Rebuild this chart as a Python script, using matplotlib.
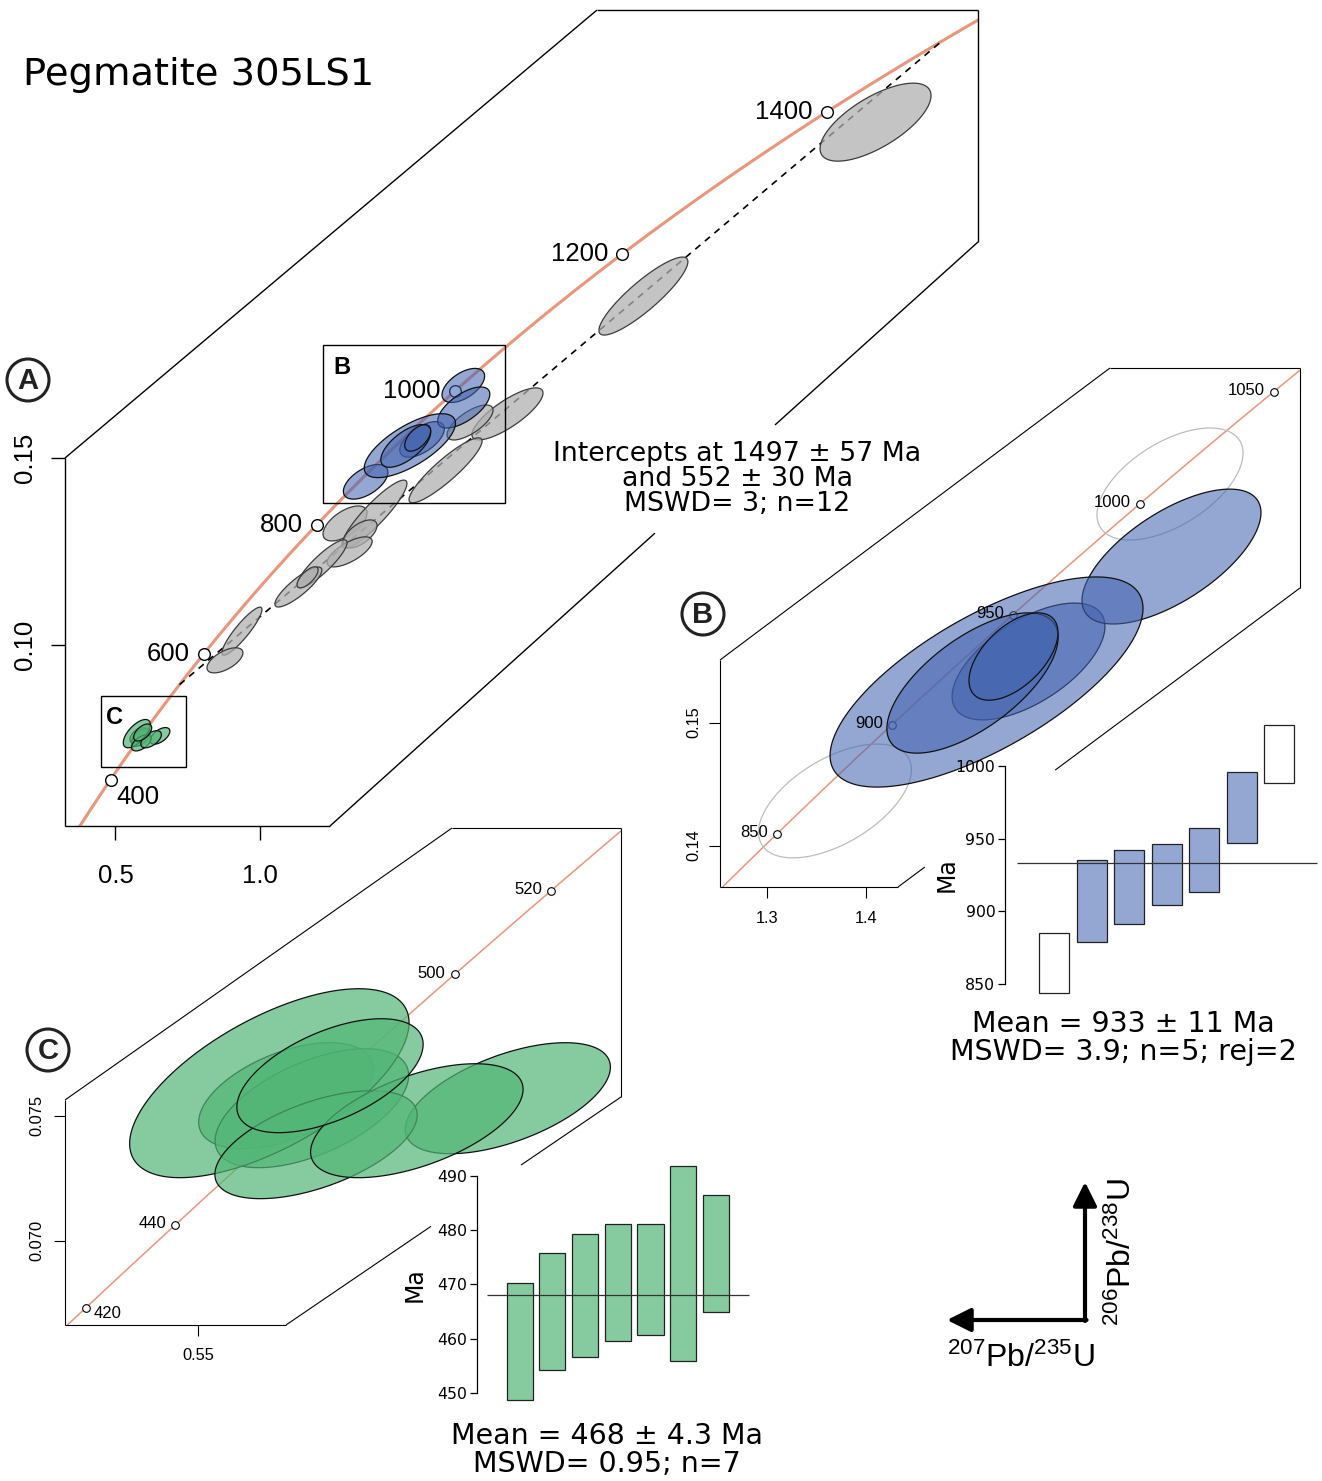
import numpy as np
import matplotlib.pyplot as plt
from matplotlib.patches import Polygon, Circle, Rectangle

plt.rcParams['font.family'] = ['Liberation Sans', 'DejaVu Sans']
plt.rcParams['mathtext.fontset'] = 'custom'
plt.rcParams['mathtext.rm'] = 'Liberation Sans'
plt.rcParams['mathtext.default'] = 'regular'

W, H = 1322, 1481
PT = 72 / 100          # points per pixel at dpi=100
LAM235 = 9.8485e-4     # decay constants, 1/Ma
LAM238 = 1.55125e-4
K95 = np.sqrt(5.991)   # 95% confidence ellipse, 2 d.o.f.

SALMON = '#e9967a'
GREY = (0.69, 0.69, 0.69, 0.75)
BLUE = (67 / 255, 99 / 255, 176 / 255, 0.57)
GREEN = (82 / 255, 182 / 255, 119 / 255, 0.70)
DEJAVU = 'DejaVu Sans'

# ---------------- data ----------------
# discordant analyses shown only in A: 207Pb/235U, 1s, 206Pb/238U, 1s, rho
grey_x = [3.139, 2.333, 1.861, 1.646, 1.731, 1.297, 1.399, 1.349, 1.313, 1.217, 1.135, 1.167, 0.939, 0.880]
grey_sx = [0.0787, 0.0631, 0.0504, 0.0518, 0.0326, 0.0312, 0.0461, 0.0241, 0.0319, 0.0355, 0.0333, 0.0149, 0.0284, 0.0255]
grey_y = [0.2398, 0.1933, 0.1618, 0.1467, 0.1595, 0.1325, 0.1350, 0.1297, 0.1249, 0.1217, 0.1155, 0.1181, 0.1037, 0.0959]
grey_sy = [0.00426, 0.00426, 0.00284, 0.00355, 0.00191, 0.00191, 0.00371, 0.00153, 0.00164, 0.00262, 0.00218, 0.00115, 0.00262, 0.00137]
grey_rho = [0.68, 0.88, 0.80, 0.90, 0.70, 0.60, 0.90, 0.60, 0.70, 0.88, 0.85, 0.70, 0.90, 0.60]

# ~930 Ma population (inset B)
b_x = [1.3686, 1.7077, 1.5645, 1.7092, 1.5220, 1.5078, 1.5493]
b_sx = [0.0316, 0.0302, 0.0316, 0.0370, 0.0647, 0.0354, 0.0184]
b_y = [0.14363, 0.16940, 0.15497, 0.16350, 0.15330, 0.15322, 0.15537]
b_sy = [0.00189, 0.00186, 0.00194, 0.00224, 0.00349, 0.00233, 0.00145]
b_rho = [0.55, 0.55, 0.60, 0.65, 0.70, 0.65, 0.55]
b_rej = [True, True, False, False, False, False, False]

# ~468 Ma population (inset C)
c_x = [0.5796, 0.5883, 0.6542, 0.5740, 0.5897, 0.6236, 0.5944]
c_sx = [0.0120, 0.0133, 0.0141, 0.0192, 0.0139, 0.0146, 0.0128]
c_y = [0.0758, 0.0753, 0.0757, 0.0763, 0.07384, 0.0748, 0.0766]
c_sy = [0.000866, 0.000972, 0.000907, 0.001544, 0.000882, 0.000931, 0.000931]
c_rho = [0.50, 0.55, 0.56, 0.64, 0.55, 0.55, 0.55]

# weighted mean 206Pb/238U ages (Ma, 2s)
b_age = [864.5, 907.1, 916.9, 925.4, 935.2, 971.5, 1008.2]
b_err = [20.9, 28.4, 25.6, 21.0, 22.1, 24.3, 19.9]
b_age_rej = [True, False, False, False, False, False, True]
b_mean = 933
c_age = [459.5, 464.9, 467.9, 470.3, 470.9, 473.9, 475.7]
c_err = [10.8, 10.8, 11.4, 10.8, 10.2, 18.0, 10.8]
c_mean = 468

intercepts = [552, 1497]
a_tick_ages = [400, 600, 800, 1000, 1200, 1400]
b_tick_ages = [850, 900, 950, 1000, 1050]
c_tick_ages = [420, 440, 500, 520]


def concordia(t):
    t = np.asarray(t, float)
    return np.exp(LAM235 * t) - 1, np.exp(LAM238 * t) - 1


def ellipse(x, sx, y, sy, rho, n=160):
    cov = np.array([[sx**2, rho * sx * sy], [rho * sx * sy, sy**2]])
    w, v = np.linalg.eigh(cov)
    th = np.linspace(0, 2 * np.pi, n)
    pts = K95 * v @ (np.sqrt(w)[:, None] * np.vstack([np.cos(th), np.sin(th)]))
    return np.column_stack([x + pts[0], y + pts[1]])


def px_axes(l, t, r, b):
    ax = fig.add_axes([l / W, 1 - b / H, (r - l) / W, (b - t) / H])
    ax.patch.set_alpha(0)
    for s in ax.spines.values():
        s.set_visible(False)
    return ax


def panel(l, t, r, b, xref, yref):
    # xref/yref: (pixel, value, pixels per unit)
    ax = px_axes(l, t, r, b)
    xp, xv, xs = xref
    yp, yv, ys = yref
    ax.set_xlim(xv + (l - xp) / xs, xv + (r - xp) / xs)
    ax.set_ylim(yv - (b - yp) / ys, yv - (t - yp) / ys)
    return ax


def draw_frame(verts, gap=None, lw=1.0):
    v = np.array(verts + [verts[0]], float)
    for i in range(len(verts)):
        p0, p1 = v[i], v[i + 1]
        if gap is not None and gap[0] == i:
            f0, f1 = gap[1], gap[2]
            ov.plot([p0[0], p0[0] + f0 * (p1[0] - p0[0])], [p0[1], p0[1] + f0 * (p1[1] - p0[1])],
                    color='black', lw=lw, solid_capstyle='butt')
            ov.plot([p0[0] + f1 * (p1[0] - p0[0]), p1[0]], [p0[1] + f1 * (p1[1] - p0[1]), p1[1]],
                    color='black', lw=lw, solid_capstyle='butt')
        else:
            ov.plot([p0[0], p1[0]], [p0[1], p1[1]], color='black', lw=lw, solid_capstyle='butt')
    return Polygon(verts, closed=True, transform=ov.transData)


def draw_concordia(ax, clip, tmax, ages, lw, ms, mew, fs, offsets):
    t = np.linspace(0, tmax, 800)
    cx, cy = concordia(t)
    line, = ax.plot(cx, cy, color=SALMON, lw=lw, zorder=1)
    line.set_clip_path(clip)
    mx, my = concordia(ages)
    ax.plot(mx, my, 'o', ms=ms, mfc='white', mec='black', mew=mew, zorder=2)
    for a, x, y in zip(ages, mx, my):
        dx, dy, ha = offsets.get(a, offsets['default'])
        ax.annotate(str(a), (x, y), xytext=(dx * PT, dy * PT), textcoords='offset points',
                    ha=ha, va='center', fontsize=fs, zorder=6)


def draw_ellipses(ax, xs, sxs, ys, sys_, rhos, face, edge, lw, zorder):
    for x, sx, y, sy, r in zip(xs, sxs, ys, sys_, rhos):
        ax.add_patch(Polygon(ellipse(x, sx, y, sy, r), closed=True, facecolor=face,
                             edgecolor=edge, lw=lw, zorder=zorder))


def weighted_mean(l, t, r, b, yref, xref, ages, errs, rej, mean, face, yticks, label_xy):
    ax = panel(l, t, r, b, xref, yref)
    idx = np.arange(1, len(ages) + 1)
    cols = ['white' if rj else face for rj in rej]
    ax.bar(idx, 2 * np.array(errs), bottom=np.array(ages) - np.array(errs), width=0.8,
           color=cols, edgecolor='#222222', lw=0.9, zorder=2)
    ax.hlines(mean, 0, len(ages) + 1, color='#333333', lw=0.9, zorder=3)
    ax.spines['left'].set_visible(True)
    ax.spines['left'].set_bounds(yticks[0], yticks[-1])
    ax.spines['left'].set_linewidth(0.9)
    ax.set_xticks([])
    ax.set_yticks(yticks)
    ax.set_yticklabels([str(v) for v in yticks], family=DEJAVU)
    ax.tick_params(axis='y', length=5, width=0.9, pad=2, labelsize=11.3)
    ax.text(label_xy[0], label_xy[1], 'Ma', transform=ax.transAxes, rotation=90,
            ha='center', va='center', fontsize=17, family=DEJAVU)
    return ax


fig = plt.figure(figsize=(W / 100, H / 100), dpi=100)

ov = fig.add_axes([0, 0, 1, 1])
ov.set_xlim(0, W)
ov.set_ylim(H, 0)
ov.axis('off')
ov.set_zorder(10)
ov.patch.set_alpha(0)

# ---------------- panel A ----------------
clip_a = draw_frame([(65, 458), (597, 10), (978, 10), (978, 242), (330, 826), (65, 826)],
                    gap=(3, 0.3133, 0.4985), lw=1.0)
ax_a = panel(65, 10, 978, 826, (115.5, 0.5, 288), (645, 0.10, 3740))
draw_concordia(ax_a, clip_a, 1700, a_tick_ages, lw=2.2, ms=8.4, mew=1.0, fs=18.5,
               offsets={'default': (-14, 0, 'right'), 400: (6, -17, 'left')})
dx_, dy_ = concordia(intercepts)
ax_a.plot(dx_, dy_, color='black', lw=1.2, ls=(0, (4, 3.5)), zorder=1.5)
draw_ellipses(ax_a, grey_x, grey_sx, grey_y, grey_sy, grey_rho, GREY, '#3c3c3c', 0.9, 3)
draw_ellipses(ax_a, b_x, b_sx, b_y, b_sy, b_rho, BLUE, '#111111', 0.9, 4)
draw_ellipses(ax_a, c_x, c_sx, c_y, c_sy, c_rho, GREEN, '#111111', 0.9, 5)
ax_a.set_xticks([0.5, 1.0])
ax_a.set_xticklabels(['0.5', '1.0'])
ax_a.set_yticks([0.10, 0.15])
ax_a.set_yticklabels(['0.10', '0.15'])
ax_a.tick_params(axis='x', length=10, width=1, pad=17.5, labelsize=18.5)
ax_a.tick_params(axis='y', length=10, width=1, pad=10, labelsize=18.5, labelrotation=90)
for lbl in ax_a.get_yticklabels():
    lbl.set_va('center')

ov.add_patch(Rectangle((323, 345), 182, 158, fill=False, lw=1.0, ec='black'))
ov.text(333, 367, 'B', fontsize=17, fontweight='bold', ha='left', va='center')
ov.add_patch(Rectangle((101, 696), 85, 71, fill=False, lw=1.0, ec='black'))
ov.text(106, 717, 'C', fontsize=17, fontweight='bold', ha='left', va='center')

ov.text(737, 479, 'Intercepts at 1497 \u00b1 57 Ma\nand 552 \u00b1 30 Ma\nMSWD= 3; n=12',
        ha='center', va='center', fontsize=19.3, family=DEJAVU, linespacing=0.95)
ov.text(23, 75, 'Pegmatite 305LS1', ha='left', va='center', fontsize=27.7, family=DEJAVU)

# ---------------- panel B ----------------
clip_b = draw_frame([(720, 660), (1110, 368), (1300, 368), (1300, 588), (898, 887), (720, 887)],
                    gap=(3, 0.609, 0.933), lw=0.8)
ax_b = panel(720, 368, 1300, 887, (767.2, 1.3, 988), (722.6, 0.15, 12300))
draw_concordia(ax_b, clip_b, 1200, b_tick_ages, lw=1.1, ms=5.5, mew=0.8, fs=12,
               offsets={'default': (-9, 1, 'right')})
rej_idx = [i for i, r in enumerate(b_rej) if r]
acc_idx = [i for i, r in enumerate(b_rej) if not r]
sel = lambda arr, ii: [arr[i] for i in ii]
draw_ellipses(ax_b, sel(b_x, rej_idx), sel(b_sx, rej_idx), sel(b_y, rej_idx), sel(b_sy, rej_idx),
              sel(b_rho, rej_idx), 'none', '#bdbdbd', 0.9, 3)
draw_ellipses(ax_b, sel(b_x, acc_idx), sel(b_sx, acc_idx), sel(b_y, acc_idx), sel(b_sy, acc_idx),
              sel(b_rho, acc_idx), BLUE, '#111111', 0.9, 4)
ax_b.set_xticks([1.3, 1.4])
ax_b.set_xticklabels(['1.3', '1.4'])
ax_b.set_yticks([0.14, 0.15])
ax_b.set_yticklabels(['0.14', '0.15'])
ax_b.tick_params(axis='x', length=8, width=0.8, pad=9.2, labelsize=11.8)
ax_b.tick_params(axis='y', length=8, width=0.8, pad=5.4, labelsize=11.8, labelrotation=90)
for lbl in ax_b.get_yticklabels():
    lbl.set_va('center')

weighted_mean(1005, 720, 1320, 1000, (766, 1000, 1.4533), (1054, 1, 37.5),
              b_age, b_err, b_age_rej, b_mean, BLUE, [850, 900, 950, 1000], (-0.184, 0.446))
ov.text(1123, 1038, 'Mean = 933 \u00b1 11 Ma\nMSWD= 3.9; n=5; rej=2', ha='center', va='center',
        fontsize=20.5, family=DEJAVU, linespacing=0.96)

# ---------------- panel C ----------------
clip_c = draw_frame([(65, 1100), (452, 828), (621, 828), (621, 1097), (286, 1325), (65, 1325)],
                    gap=(3, 0.2985, 0.567), lw=0.8)
ax_c = panel(65, 828, 621, 1325, (198, 0.55, 2973), (1240.7, 0.070, 25000))
draw_concordia(ax_c, clip_c, 700, c_tick_ages, lw=1.1, ms=5.5, mew=0.8, fs=12,
               offsets={'default': (-9, 1, 'right'), 420: (8, -6, 'left')})
draw_ellipses(ax_c, c_x, c_sx, c_y, c_sy, c_rho, GREEN, '#111111', 0.9, 4)
ax_c.set_xticks([0.55])
ax_c.set_xticklabels(['0.55'])
ax_c.set_yticks([0.070, 0.075])
ax_c.set_yticklabels(['0.070', '0.075'])
ax_c.tick_params(axis='x', length=8, width=0.8, pad=8.3, labelsize=11.8)
ax_c.tick_params(axis='y', length=8, width=0.8, pad=6.5, labelsize=11.8, labelrotation=90)
for lbl in ax_c.get_yticklabels():
    lbl.set_va('center')

weighted_mean(477, 1160, 755, 1405, (1176, 490, 5.4175), (519.7, 1, 32.7),
              c_age, c_err, [False] * len(c_age), c_mean, GREEN, [450, 460, 470, 480, 490],
              (-0.223, 0.49))
ov.text(607, 1450, 'Mean = 468 \u00b1 4.3 Ma\nMSWD= 0.95; n=7', ha='center', va='center',
        fontsize=20.5, family=DEJAVU, linespacing=0.96)

# ---------------- panel letters ----------------
for cx, cy, letter in [(28, 380, 'A'), (703, 614, 'B'), (48, 1050, 'C')]:
    ov.add_patch(Circle((cx, cy), 21, fill=False, lw=2.2, ec='#222222'))
    ov.text(cx, cy + 1, letter, ha='center', va='center', fontsize=21, fontweight='bold',
            color='#222222')

# ---------------- axis key ----------------
ov.annotate('', xy=(1085, 1182), xytext=(1085, 1321),
            arrowprops=dict(arrowstyle='-|>', lw=3, color='black', mutation_scale=36,
                            shrinkA=0, shrinkB=0))
ov.annotate('', xy=(947, 1320), xytext=(1086.5, 1320),
            arrowprops=dict(arrowstyle='-|>', lw=3, color='black', mutation_scale=36,
                            shrinkA=0, shrinkB=0))
ov.text(1131, 1252, r'$^{206}$Pb/$^{238}$U', rotation=90, rotation_mode='anchor',
        ha='center', va='baseline', fontsize=23)
ov.text(1021, 1367, r'$^{207}$Pb/$^{235}$U', ha='center', va='baseline', fontsize=23)

fig.savefig('out.png', dpi=100)
